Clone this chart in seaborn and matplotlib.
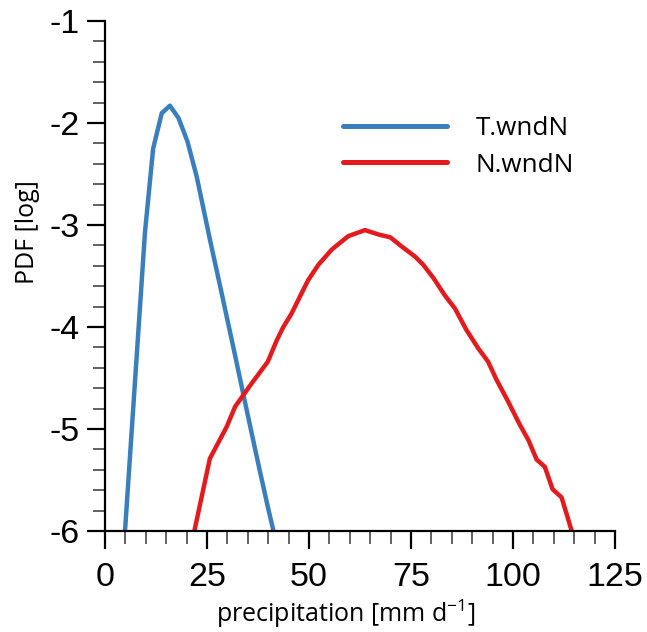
import numpy as np
import pandas as pd
import seaborn as sns
import matplotlib.pyplot as plt
from matplotlib.ticker import MultipleLocator

# data
t_x = [4.9, 9.8, 11.8, 13.9, 15.9, 18.0, 20.2, 22.5, 25.7, 28, 30, 32, 33.9, 36, 38, 40, 41.3]
t_y = [-6.0, -3.07, -2.25, -1.905, -1.83, -1.95, -2.18, -2.53, -3.14, -3.56, -3.93, -4.30, -4.66, -5.05, -5.42, -5.78, -6.0]

n_x = [21.9, 25.7, 29.8, 31.9, 36.0, 39.9, 42.1, 43.7, 45.7, 47.8, 49.8, 52.3, 55.6, 59.6, 63.7,
       67.2, 69.9, 72.7, 76.0, 78.0, 80.5, 83.3, 85.8, 88.6, 91.5, 93.9, 96.0, 98.8, 101.7,
       103.8, 105.8, 107.8, 109.7, 111.9, 114.4]
n_y = [-6.0, -5.29, -4.98, -4.78, -4.55, -4.34, -4.13, -4.0, -3.87, -3.70, -3.54, -3.39, -3.24, -3.11, -3.05,
       -3.095, -3.12, -3.21, -3.31, -3.39, -3.52, -3.69, -3.82, -4.03, -4.21, -4.34, -4.52, -4.73, -4.96,
       -5.11, -5.30, -5.37, -5.59, -5.67, -6.0]

labels = ["T.wndN", "N.wndN"]
colors = ["#3a7fbd", "#e41a1c"]

df = pd.concat([
    pd.DataFrame({"x": t_x, "y": t_y, "run": labels[0]}),
    pd.DataFrame({"x": n_x, "y": n_y, "run": labels[1]}),
])

sns.set_style("ticks")
plt.rcParams['font.family'] = ['Liberation Sans', 'DejaVu Sans']
plt.rcParams['text.color'] = 'black'
plt.rcParams['axes.labelcolor'] = 'black'
plt.rcParams['xtick.color'] = 'black'
plt.rcParams['ytick.color'] = 'black'
plt.rcParams['mathtext.fontset'] = 'custom'
plt.rcParams['mathtext.rm'] = 'Open Sans'
plt.rcParams['mathtext.it'] = 'Open Sans'

fig = plt.figure(figsize=(6.47, 6.32), dpi=100)
ax = fig.add_axes([0.1623, 0.1598, 0.7882, 0.8070])

sns.lineplot(data=df, x="x", y="y", hue="run", palette=colors, sort=False,
             estimator=None, linewidth=3.2, ax=ax)

ax.set_xlim(0, 125)
ax.set_ylim(-6, -1)
ax.xaxis.set_major_locator(MultipleLocator(25))
ax.xaxis.set_minor_locator(MultipleLocator(5))
ax.yaxis.set_major_locator(MultipleLocator(1))
ax.yaxis.set_minor_locator(MultipleLocator(0.2))
ax.set_yticklabels([f"{int(v)}" for v in ax.get_yticks()])

sns.despine(ax=ax)
for s in ["left", "bottom"]:
    ax.spines[s].set_linewidth(1.6)
    ax.spines[s].set_color("black")
ax.tick_params(which="major", length=13, width=1.6, color="black", labelcolor="black", labelsize=24.5)
ax.tick_params(which="minor", length=9, width=1.3, color="#555555")
ax.tick_params(axis="x", which="major", pad=9)
ax.tick_params(axis="y", which="major", pad=5)

lab_font = dict(family=['Open Sans', 'DejaVu Sans'], size=18, color="black")
ax.set_xlabel("precipitation [mm d$^{\\mathregular{-1}}$]", fontdict=lab_font)
ax.set_ylabel("PDF [log]", fontdict=lab_font)
ax.xaxis.set_label_coords((346 - 105) / 510, (531 - 598) / 510)
ax.yaxis.set_label_coords((40 - 105) / 510, (531 - 232) / 510)

leg = ax.legend(loc="upper left", bbox_to_anchor=(0.42, 0.86), frameon=False,
                handlelength=4.0, handletextpad=1.1, labelspacing=0.45,
                prop={'family': 'Open Sans', 'size': 18.8})
for h in leg.get_lines():
    h.set_linewidth(3.6)
    h.set_solid_capstyle("round")
for t in leg.get_texts():
    t.set_color("black")

fig.savefig("out.png", dpi=100)
